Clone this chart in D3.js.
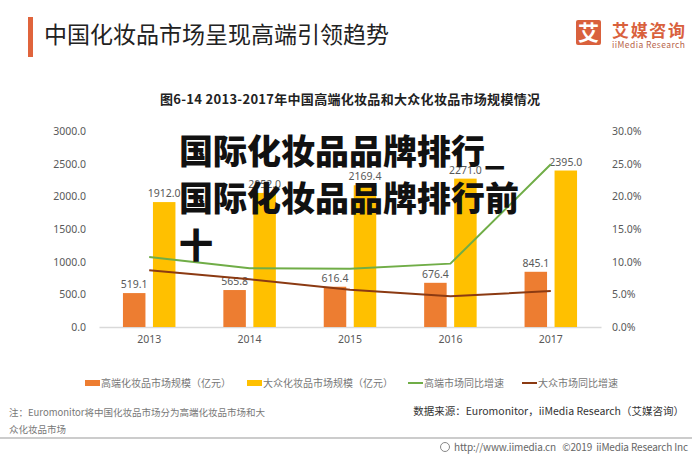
<!DOCTYPE html>
<html><head><meta charset="utf-8">
<script src="https://cdn.jsdelivr.net/npm/d3@7/dist/d3.min.js"></script>
<style>
html,body{margin:0;padding:0;background:#fff;}
svg{display:block;font-family:"Noto Sans CJK SC","Noto Sans",sans-serif;}
</style></head>
<body>
<svg id="c" width="700" height="454"></svg>
<script>
const years = ["2013","2014","2015","2016","2017"];
const highEnd = [519.1, 565.8, 616.4, 676.4, 845.1];
const mass = [1912.0, 2052.0, 2169.4, 2271.0, 2395.0];
const highGrowth = [10.7, 9.0, 8.9, 9.7, 24.9];
const massGrowth = [8.7, 7.3, 5.7, 4.7, 5.5];
const leftTicks = [0, 500, 1000, 1500, 2000, 2500, 3000];
const rightTicks = [0, 5, 10, 15, 20, 25, 30];
const legendNames = ["高端化妆品市场规模（亿元）","大众化妆品市场规模（亿元）","高端市场同比增速","大众市场同比增速"];
const overlayLines = ["国际化妆品品牌排行_","国际化妆品品牌排行前","十"];

const C = {orange:"#ED7D31", yellow:"#FFC000", green:"#70AD47", brown:"#8B3A12", text:"#595959"};
const svg = d3.select("#c");

// header
svg.append("rect").attr("x",28).attr("y",17).attr("width",5).attr("height",40).attr("fill","#E0643C");
svg.append("text").attr("x",44).attr("y",43).attr("font-size",23).attr("fill","#222")
  .text("中国化妆品市场呈现高端引领趋势");
// logo
svg.append("rect").attr("x",576).attr("y",20).attr("width",25).attr("height",25).attr("rx",2).attr("fill","#D9613D");
svg.append("text").attr("x",588.5).attr("y",40).attr("text-anchor","middle").attr("font-size",21).attr("font-weight","bold").attr("fill","#fff").text("艾");
svg.append("text").attr("x",612).attr("y",37).attr("font-size",17).attr("font-weight","bold").attr("fill","#D9613D").attr("textLength",73).text("艾媒咨询");
svg.append("text").attr("x",612).attr("y",48).attr("font-size",8.5).attr("fill","#B7644A").attr("textLength",73).text("iiMedia Research");

// chart title
svg.append("text").attr("x",350).attr("y",104).attr("text-anchor","middle").attr("font-size",13).attr("font-weight","bold").attr("fill","#222")
  .attr("textLength",380).text("图6-14 2013-2017年中国高端化妆品和大众化妆品市场规模情况");

// scales
const x = d3.scaleBand().domain(years).range([99, 601]);
const yL = d3.scaleLinear().domain([0,3000]).range([327,131]);
const yR = d3.scaleLinear().domain([0,30]).range([327,131]);

// left axis
const gl = svg.append("g").attr("transform","translate(90,0)")
  .call(d3.axisLeft(yL).tickValues(leftTicks).tickFormat(d3.format(".1f")).tickSize(0).tickPadding(4));
gl.select(".domain").remove();
gl.selectAll("text").attr("font-size",10.5).attr("fill",C.text).attr("font-family","Noto Sans, sans-serif");

const gr = svg.append("g").attr("transform","translate(608,0)")
  .call(d3.axisRight(yR).tickValues(rightTicks).tickFormat(d=>d3.format(".1f")(d)+"%").tickSize(0).tickPadding(4));
gr.select(".domain").remove();
gr.selectAll("text").attr("font-size",10.5).attr("fill",C.text).attr("font-family","Noto Sans, sans-serif");

// bottom axis
const gb = svg.append("g").attr("transform","translate(0,327)")
  .call(d3.axisBottom(x).tickSize(0).tickPadding(9));
gb.select(".domain").attr("stroke","#d9d9d9").attr("stroke-width",1.5);
gb.selectAll("text").attr("font-size",10.5).attr("fill",C.text).attr("font-family","Noto Sans, sans-serif");

const bw = 22.5, off = 15;
const cx = d => x(d) + x.bandwidth()/2;

// bars
svg.append("g").selectAll("rect").data(years).join("rect")
  .attr("x",(d)=>cx(d)-off-bw/2).attr("width",bw)
  .attr("y",(d,i)=>yL(highEnd[i])).attr("height",(d,i)=>yL(0)-yL(highEnd[i])).attr("fill",C.orange);
svg.append("g").selectAll("rect").data(years).join("rect")
  .attr("x",(d)=>cx(d)+off-bw/2).attr("width",bw)
  .attr("y",(d,i)=>yL(mass[i])).attr("height",(d,i)=>yL(0)-yL(mass[i])).attr("fill",C.yellow);

// bar labels
svg.append("g").selectAll("text").data(years).join("text")
  .attr("x",d=>cx(d)-off).attr("y",(d,i)=>yL(highEnd[i])-5).attr("text-anchor","middle")
  .attr("font-size",10.5).attr("fill",C.text).attr("font-family","Noto Sans, sans-serif")
  .text((d,i)=>d3.format(".1f")(highEnd[i]));
svg.append("g").selectAll("text").data(years).join("text")
  .attr("x",d=>cx(d)+off).attr("y",(d,i)=>yL(mass[i])-5).attr("text-anchor","middle")
  .attr("font-size",10.5).attr("fill",C.text).attr("font-family","Noto Sans, sans-serif")
  .text((d,i)=>d3.format(".1f")(mass[i]));

// lines
const line = d3.line().x(d=>cx(d[0])).y(d=>yR(d[1]));
svg.append("path").attr("d",line(years.map((y,i)=>[y,highGrowth[i]]))).attr("fill","none").attr("stroke",C.green).attr("stroke-width",2);
svg.append("path").attr("d",line(years.map((y,i)=>[y,massGrowth[i]]))).attr("fill","none").attr("stroke",C.brown).attr("stroke-width",2);

// legend
const lg = svg.append("g").attr("font-size",10).attr("fill","#777");
const lx = [85, 247, 408, 522];
const lcol = [C.orange, C.yellow, C.green, C.brown];
legendNames.forEach((n,i)=>{
  if(i<2) lg.append("rect").attr("x",lx[i]).attr("y",380).attr("width",15).attr("height",6).attr("fill",lcol[i]);
  else lg.append("line").attr("x1",lx[i]).attr("x2",lx[i]+15).attr("y1",383).attr("y2",383).attr("stroke",lcol[i]).attr("stroke-width",2);
  lg.append("text").attr("x",lx[i]+16).attr("y",387).text(n);
});

// footer
svg.append("text").attr("x",9).attr("y",416).attr("font-size",9.5).attr("fill","#777").text("注：Euromonitor将中国化妆品市场分为高端化妆品市场和大");
svg.append("text").attr("x",9).attr("y",433).attr("font-size",9.5).attr("fill","#777").text("众化妆品市场");
svg.append("text").attr("x",684).attr("y",415).attr("text-anchor","end").attr("font-size",10.5).attr("fill","#333").text("数据来源：Euromonitor，iiMedia Research（艾媒咨询）");
svg.append("line").attr("x1",0).attr("x2",692).attr("y1",438).attr("y2",438).attr("stroke","#999").attr("stroke-width",1.2);
svg.append("circle").attr("cx",445).attr("cy",447).attr("r",4.5).attr("fill","none").attr("stroke","#888").attr("stroke-width",1);
svg.append("text").attr("x",454).attr("y",451).attr("font-size",10).attr("fill","#666").attr("xml:space","preserve")
  .attr("textLength",234).text("http://www.iimedia.cn   ©2019  iiMedia Research Inc");

// overlay
svg.append("g").selectAll("text").data(overlayLines).join("text")
  .attr("x",179).attr("y",(d,i)=>164+i*47).attr("font-size",34).attr("font-weight",900).attr("fill","#111")
  .text(d=>d);
</script>
</body></html>
